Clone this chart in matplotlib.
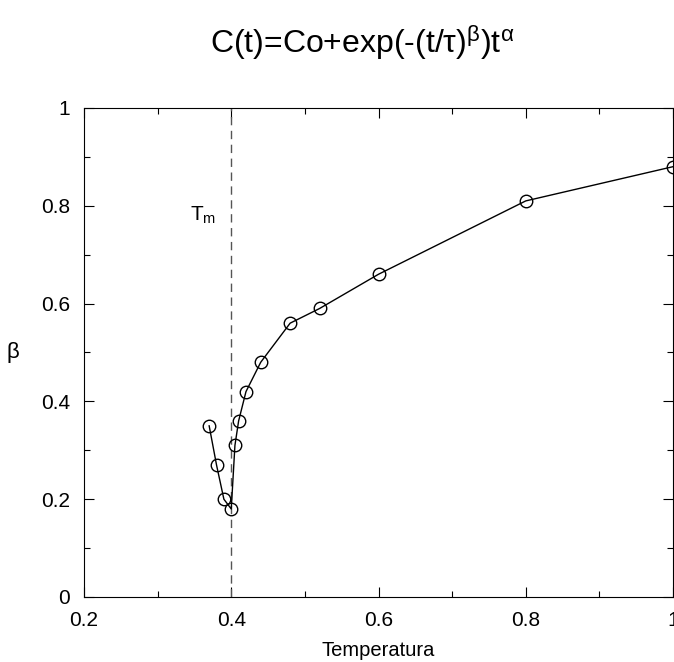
import matplotlib
matplotlib.use('Agg')
import matplotlib.pyplot as plt
from matplotlib.ticker import MultipleLocator

# data
temps = [0.37, 0.38, 0.39, 0.40, 0.405, 0.41, 0.42, 0.44, 0.48, 0.52, 0.60, 0.80, 1.00]
beta = [0.35, 0.27, 0.20, 0.18, 0.31, 0.36, 0.42, 0.48, 0.56, 0.59, 0.66, 0.81, 0.88]
t_m = 0.40

plt.rcParams['font.family'] = ['Liberation Sans', 'DejaVu Sans']
plt.rcParams['mathtext.fontset'] = 'custom'
plt.rcParams['mathtext.rm'] = 'Liberation Sans'
plt.rcParams['mathtext.it'] = 'Liberation Sans'
plt.rcParams['mathtext.bf'] = 'Liberation Sans'

fig = plt.figure(figsize=(6.74, 6.62), dpi=100)
ax = fig.add_axes([84/674, 1 - 597/662, (673 - 84)/674, (597 - 108)/662])

ax.axvline(t_m, color='#555555', lw=1, ls=(0, (6, 4)))
ax.plot(temps, beta, color='black', lw=1, marker='o', ms=9,
        mfc='none', mec='black', mew=1, clip_on=False)

ax.set_xlim(0.2, 1.0)
ax.set_ylim(0, 1)
ax.xaxis.set_major_locator(MultipleLocator(0.2))
ax.xaxis.set_minor_locator(MultipleLocator(0.1))
ax.yaxis.set_major_locator(MultipleLocator(0.2))
ax.yaxis.set_minor_locator(MultipleLocator(0.1))
ax.xaxis.set_major_formatter(plt.FuncFormatter(lambda v, p: f'{v:g}'))
ax.yaxis.set_major_formatter(plt.FuncFormatter(lambda v, p: f'{v:g}'))
ax.tick_params(which='both', direction='in', top=True, right=True,
               labelsize=15, width=0.8)
ax.tick_params(which='major', length=7)
ax.tick_params(which='minor', length=4)
ax.tick_params(axis='x', pad=10)
ax.tick_params(axis='y', pad=10)

ax.set_xlabel('Temperatura', fontsize=14.5, labelpad=8)
ax.set_ylabel(r'$\beta$', fontsize=16, rotation=0, labelpad=20, va='center')

ax.text(0.362, 0.78, r'T$_{\mathregular{m}}$', fontsize=15, ha='center', va='center')

fig.text(0.538, 1 - 42/662, r'C(t)=Co+exp(-(t/$\tau$)$^{\beta}$)t$^{\alpha}$',
         fontsize=23, ha='center', va='center')

fig.savefig('out.png', dpi=100)
